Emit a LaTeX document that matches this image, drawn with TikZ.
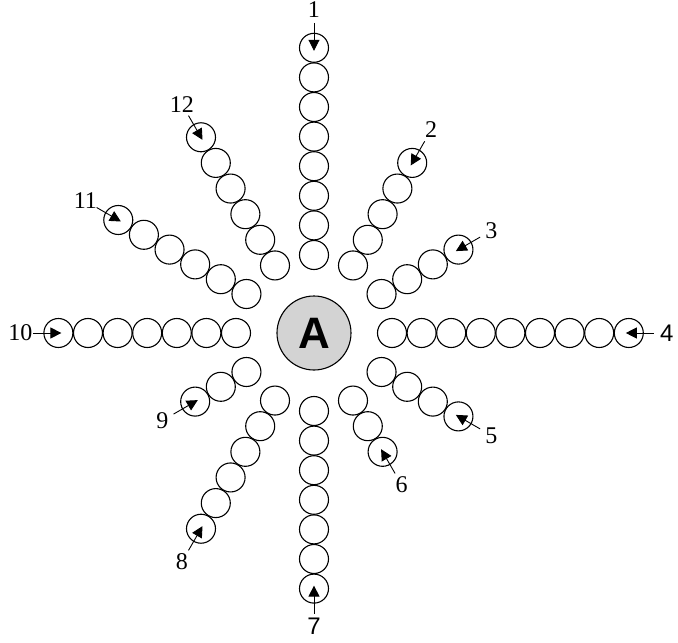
\documentclass[tikz,border=0pt]{standalone}
\usepackage{fontspec}
\setmainfont{Liberation Serif}
\newfontfamily\labsans{Liberation Sans}
\usetikzlibrary{arrows.meta}
\definecolor{centergray}{RGB}{211, 211, 211}

\tikzset{
  bead/.style={circle, draw, line width=1.1pt, minimum size=29pt, inner sep=0pt},
  inarrow/.style={-{Triangle[length=11pt, width=11pt]}, line width=0.9pt, shorten >=-3pt},
  numlab/.style={font=\fontsize{24}{27}\selectfont, inner sep=0pt}
}

\begin{document}
\begin{tikzpicture}[x=1pt, y=1pt]

  % Rahmen
  \useasboundingbox (-314,-310) rectangle (364,333);

  % Zentrum A
  \node[circle, draw, fill=centergray, line width=1.1pt, minimum size=74pt, inner sep=0pt,
        font=\labsans\bfseries\fontsize{44}{48}\selectfont] (ctrA) at (0,0) {A};

  % Ketten: Winkel / Anzahl / Nummer / Schrift
  \foreach \ang/\num/\lab/\fnt in {90/8/1/\rmfamily, 60/5/2/\rmfamily, 30/4/3/\rmfamily,
      0/9/4/\labsans, -30/4/5/\rmfamily, -60/3/6/\rmfamily, -90/7/7/\labsans,
      -120/6/8/\rmfamily, -150/3/9/\rmfamily, 180/7/10/\rmfamily,
      150/6/11/\rmfamily, 120/6/12/\rmfamily}
  {
    \foreach \i in {1,...,\num}
      \node[bead] (c\lab-\i) at (\ang:{78+(\i-1)*29.6}) {};
    \coordinate (t\lab) at (\ang:{78+(\num-1)*29.6+25});
    \node[numlab] (l\lab) at (\ang:{78+(\num-1)*29.6+38}) {\fnt\lab};
    \draw[inarrow] (t\lab) -- (c\lab-\num.center);
  }

\end{tikzpicture}
\end{document}
